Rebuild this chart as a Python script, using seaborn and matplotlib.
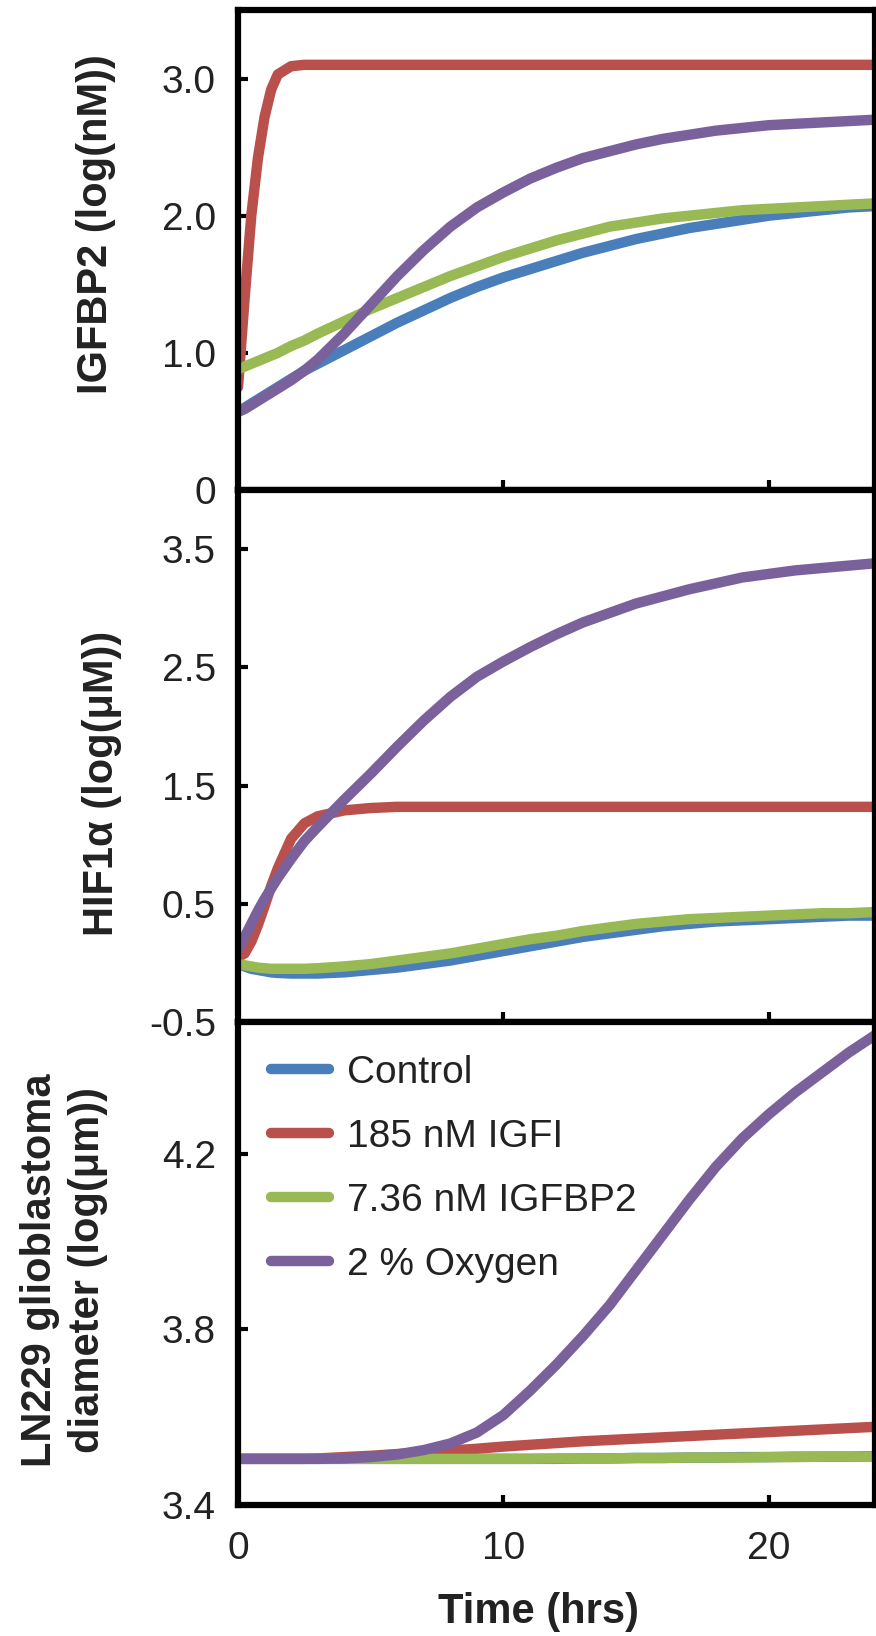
import matplotlib
matplotlib.use("Agg")
import matplotlib.pyplot as plt
import seaborn as sns
import pandas as pd
from matplotlib.lines import Line2D

# time axis shared by all panels (hrs)
time_hrs = [0, 0.25, 0.5, 0.75, 1, 1.25, 1.5, 2, 2.5, 3, 4, 5, 6, 7, 8, 9, 10,
            11, 12, 13, 14, 15, 16, 17, 18, 19, 20, 21, 22, 23, 24]

series_names = ["Control", "185 nM IGFI", "7.36 nM IGFBP2", "2 % Oxygen"]
colors = ["#4A7EBB", "#B9504C", "#98B954", "#7B619C"]

# panel 1: IGFBP2 (log(nM))
igfbp2_control = [0.57, 0.60, 0.63, 0.66, 0.69, 0.72, 0.75, 0.81, 0.87, 0.92, 1.02,
                  1.12, 1.22, 1.31, 1.40, 1.48, 1.55, 1.61, 1.67, 1.73, 1.78, 1.83,
                  1.87, 1.91, 1.94, 1.97, 2.00, 2.02, 2.04, 2.06, 2.07]
igfbp2_igf1 = [0.75, 1.40, 2.00, 2.42, 2.72, 2.92, 3.03, 3.09, 3.10, 3.10, 3.10,
               3.10, 3.10, 3.10, 3.10, 3.10, 3.10, 3.10, 3.10, 3.10, 3.10, 3.10,
               3.10, 3.10, 3.10, 3.10, 3.10, 3.10, 3.10, 3.10, 3.10]
igfbp2_bp2 = [0.88, 0.90, 0.92, 0.94, 0.96, 0.98, 1.00, 1.05, 1.09, 1.14, 1.23,
              1.32, 1.40, 1.48, 1.56, 1.63, 1.70, 1.76, 1.82, 1.87, 1.92, 1.95,
              1.98, 2.00, 2.02, 2.04, 2.05, 2.06, 2.07, 2.08, 2.09]
igfbp2_o2 = [0.57, 0.59, 0.62, 0.65, 0.68, 0.71, 0.74, 0.80, 0.87, 0.95, 1.14,
             1.35, 1.56, 1.75, 1.92, 2.06, 2.17, 2.27, 2.35, 2.42, 2.47, 2.52,
             2.56, 2.59, 2.62, 2.64, 2.66, 2.67, 2.68, 2.69, 2.70]

# panel 2: HIF1a (log(uM))
hif_control = [-0.01, -0.03, -0.05, -0.06, -0.07, -0.08, -0.085, -0.09, -0.09, -0.09,
               -0.08, -0.06, -0.04, -0.01, 0.02, 0.06, 0.10, 0.14, 0.18, 0.22, 0.25,
               0.28, 0.31, 0.33, 0.35, 0.36, 0.37, 0.38, 0.39, 0.40, 0.40]
hif_igf1 = [0.05, 0.08, 0.18, 0.32, 0.48, 0.65, 0.80, 1.05, 1.18, 1.24, 1.29,
            1.31, 1.32, 1.32, 1.32, 1.32, 1.32, 1.32, 1.32, 1.32, 1.32, 1.32,
            1.32, 1.32, 1.32, 1.32, 1.32, 1.32, 1.32, 1.32, 1.32]
hif_bp2 = [-0.01, -0.02, -0.03, -0.04, -0.045, -0.05, -0.05, -0.05, -0.05, -0.045,
           -0.03, -0.01, 0.02, 0.05, 0.08, 0.12, 0.16, 0.20, 0.23, 0.27, 0.30,
           0.33, 0.35, 0.37, 0.38, 0.39, 0.40, 0.41, 0.42, 0.42, 0.43]
hif_o2 = [0.11, 0.22, 0.33, 0.44, 0.54, 0.63, 0.72, 0.88, 1.03, 1.15, 1.38,
          1.60, 1.83, 2.05, 2.25, 2.42, 2.55, 2.67, 2.78, 2.88, 2.96, 3.04,
          3.10, 3.16, 3.21, 3.26, 3.29, 3.32, 3.34, 3.36, 3.38]

# panel 3: LN229 diameter (log(um))
diam_control = [3.505, 3.505, 3.505, 3.505, 3.505, 3.505, 3.505, 3.505, 3.505, 3.505,
                3.505, 3.505, 3.505, 3.505, 3.505, 3.505, 3.505, 3.505, 3.505, 3.506,
                3.506, 3.507, 3.507, 3.508, 3.508, 3.509, 3.509, 3.510, 3.510, 3.510, 3.511]
diam_igf1 = [3.505, 3.505, 3.505, 3.505, 3.505, 3.505, 3.505, 3.505, 3.505, 3.506,
             3.509, 3.512, 3.516, 3.520, 3.524, 3.528, 3.533, 3.537, 3.541, 3.545,
             3.548, 3.551, 3.554, 3.557, 3.560, 3.563, 3.566, 3.569, 3.572, 3.575, 3.578]
diam_bp2 = [3.505, 3.505, 3.505, 3.505, 3.505, 3.505, 3.505, 3.505, 3.505, 3.505,
            3.505, 3.505, 3.505, 3.505, 3.505, 3.505, 3.505, 3.505, 3.506, 3.506,
            3.506, 3.507, 3.507, 3.508, 3.508, 3.508, 3.509, 3.509, 3.510, 3.510, 3.510]
diam_o2 = [3.505, 3.505, 3.505, 3.505, 3.505, 3.505, 3.505, 3.505, 3.505, 3.505,
           3.506, 3.509, 3.515, 3.525, 3.540, 3.565, 3.605, 3.660, 3.720, 3.785,
           3.855, 3.935, 4.015, 4.095, 4.170, 4.235, 4.290, 4.340, 4.385, 4.430, 4.470]

x_ticks = [0, 10, 20]
x_tick_labels = ["0", "10", "20"]

panels = [
    {"series": [igfbp2_control, igfbp2_igf1, igfbp2_bp2, igfbp2_o2],
     "ylim": (0, 3.5), "yticks": [0, 1, 2, 3], "yticklabels": ["0", "1.0", "2.0", "3.0"],
     "ylabel": "IGFBP2 (log(nM))", "label_xy": (-0.223, 0.554)},
    {"series": [hif_control, hif_igf1, hif_bp2, hif_o2],
     "ylim": (-0.5, 4.0), "yticks": [-0.5, 0.5, 1.5, 2.5, 3.5],
     "yticklabels": ["-0.5", "0.5", "1.5", "2.5", "3.5"],
     "ylabel": "HIF1\u03b1 (log(\u03bcM))", "label_xy": (-0.2135, 0.449)},
    {"series": [diam_control, diam_igf1, diam_bp2, diam_o2],
     "ylim": (3.4, 4.5), "yticks": [3.4, 3.8, 4.2], "yticklabels": ["3.4", "3.8", "4.2"],
     "ylabel": "LN229 glioblastoma\ndiameter (log(\u03bcm))", "label_xy": (-0.273, 0.487)},
]

sns.set_theme(style="white")
plt.rcParams['font.family'] = ['Liberation Sans', 'DejaVu Sans']

fig = plt.figure(figsize=(8.76, 16.36), dpi=100)
left, width = 0.2717, 0.7272
boxes = [(0.7005, 0.2934), (0.3753, 0.3252), (0.0801, 0.2952)]

line_w = 7.5
for i, (panel, (bottom, height)) in enumerate(zip(panels, boxes)):
    ax = fig.add_axes([left, bottom, width, height])
    frames = []
    for name, vals in zip(series_names, panel["series"]):
        frames.append(pd.DataFrame({"time": time_hrs, "value": vals, "condition": name}))
    df = pd.concat(frames, ignore_index=True)
    sns.lineplot(data=df, x="time", y="value", hue="condition", hue_order=series_names,
                 palette=colors, linewidth=line_w, estimator=None, sort=False,
                 legend=False, ax=ax, solid_joinstyle="round")

    ax.set_xlim(0, 24)
    ax.set_ylim(*panel["ylim"])
    ax.set_xticks(x_ticks)
    ax.set_yticks(panel["yticks"])
    ax.set_yticklabels(panel["yticklabels"])
    for sp in ax.spines.values():
        sp.set_color("black")
        sp.set_linewidth(4.5)
    ax.tick_params(axis="both", which="major", direction="in", length=7, width=3,
                   color="black", labelsize=28, labelcolor="#222222",
                   bottom=True, left=True)
    ax.tick_params(axis="y", pad=16)
    ax.tick_params(axis="x", pad=19)

    ax.set_ylabel(panel["ylabel"], fontsize=30, fontweight="bold", va="center",
                  linespacing=1.25, color="#222222")
    ax.yaxis.set_label_coords(*panel["label_xy"])

    if i < 2:
        ax.tick_params(labelbottom=False)
        ax.set_xlabel("")
    else:
        ax.set_xticklabels(x_tick_labels)
        ax.set_xlabel("Time (hrs)", fontsize=30, fontweight="bold", va="center",
                      color="#222222")
        ax.xaxis.set_label_coords(0.471, -0.222)
        handles = [Line2D([0], [0], color=c, lw=line_w, solid_capstyle="round")
                   for c in colors]
        ax.legend(handles, series_names, loc="upper left", frameon=False, fontsize=28,
                  handlelength=1.5, handletextpad=0.45, labelspacing=0.72,
                  borderaxespad=0.5, borderpad=0.35, labelcolor="#222222")

fig.savefig("out.png", dpi=100)
